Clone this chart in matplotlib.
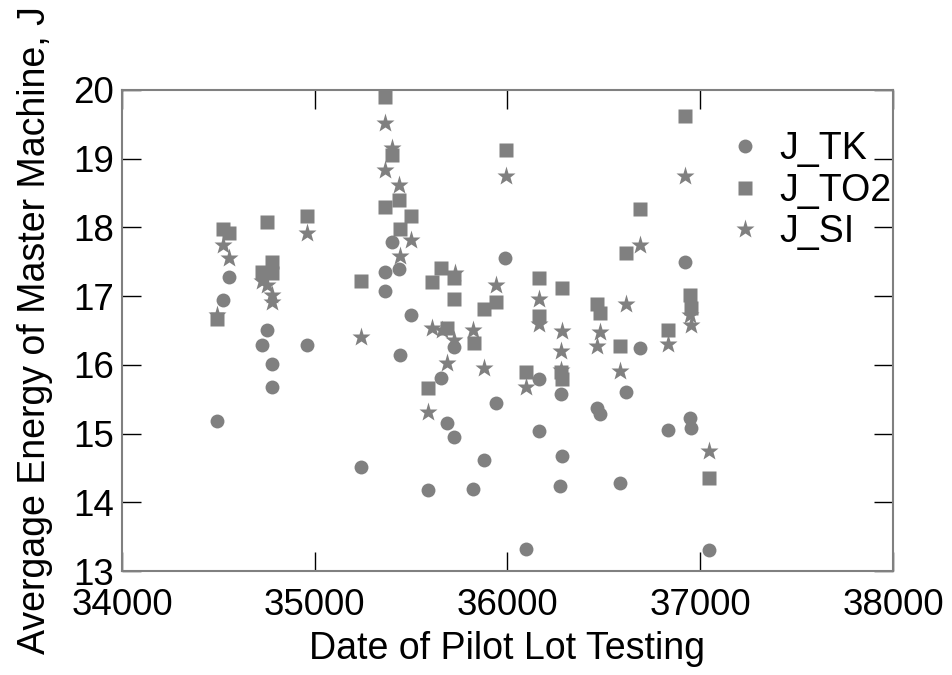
import matplotlib.pyplot as plt

plt.rcParams["font.family"] = ["Liberation Sans", "DejaVu Sans"]

# test dates and average energy readings per method
tk_date = [34492, 34523, 34554, 34727, 34751, 34779, 34776, 34960, 35240, 35363,
           35363, 35401, 35437, 35440, 35497, 35589, 35653, 35687, 35722, 35722,
           35820, 35877, 35941, 35988, 36097, 36166, 36166, 36278, 36281, 36275,
           36464, 36482, 36585, 36617, 36686, 36831, 36922, 36945, 36952, 37043]
tk_val = [15.18, 16.94, 17.28, 16.29, 16.51, 16.01, 15.67, 16.29, 14.52, 17.35,
          17.08, 17.79, 17.39, 16.14, 16.72, 14.18, 15.81, 15.15, 14.95, 16.26,
          14.19, 14.62, 15.45, 17.55, 13.32, 15.80, 15.03, 15.57, 14.67, 14.23,
          15.37, 15.29, 14.28, 15.61, 16.25, 15.05, 17.50, 15.22, 15.08, 13.30]

to2_date = [34492, 34523, 34554, 34727, 34751, 34776, 34779, 34960, 35242, 35363,
            35363, 35401, 35437, 35442, 35497, 35589, 35606, 35655, 35687, 35724,
            35724, 35824, 35877, 35941, 35990, 36097, 36166, 36166, 36278, 36283,
            36281, 36464, 36482, 36585, 36617, 36686, 36831, 36922, 36945, 36952,
            37043]
to2_val = [16.67, 17.97, 17.91, 17.35, 18.08, 17.49, 17.33, 18.17, 17.22, 19.89,
           18.30, 19.05, 18.40, 17.98, 18.16, 15.66, 17.20, 17.41, 16.53, 17.26,
           16.96, 16.32, 16.81, 16.91, 19.13, 15.90, 17.26, 16.71, 15.90, 15.79,
           17.11, 16.88, 16.75, 16.27, 17.63, 18.26, 16.50, 19.62, 17.02, 16.83,
           14.35]

si_date = [34492, 34523, 34554, 34727, 34751, 34779, 34776, 34960, 35240, 35363,
           35363, 35401, 35437, 35442, 35497, 35589, 35606, 35658, 35687, 35722,
           35726, 35820, 35877, 35941, 35990, 36097, 36166, 36166, 36278, 36278,
           36281, 36464, 36482, 36585, 36617, 36686, 36831, 36922, 36945, 36952,
           37043]
si_val = [16.72, 17.74, 17.55, 17.22, 17.16, 17.02, 16.92, 17.92, 16.41, 19.51,
          18.84, 19.15, 18.61, 17.58, 17.82, 15.32, 16.53, 16.50, 16.02, 16.36,
          17.33, 16.51, 15.95, 17.16, 18.75, 15.67, 16.96, 16.60, 16.20, 15.93,
          16.49, 16.27, 16.48, 15.91, 16.89, 17.74, 16.30, 18.75, 16.73, 16.58,
          14.74]

grey = "#808080"

fig = plt.figure(figsize=(9.53, 6.75), dpi=100)
ax = fig.add_axes([0.128, 0.154, 0.809, 0.713])

ax.plot(tk_date, tk_val, "o", color=grey, ms=10, mec="none", label="J_TK")
ax.plot(to2_date, to2_val, "s", color=grey, ms=10, mec="none", label="J_TO2")
ax.plot(si_date, si_val, "*", color=grey, ms=14, mec="none", label="J_SI")

ax.set_xlim(34000, 38000)
ax.set_ylim(13, 20)
ax.set_xticks([34000, 35000, 36000, 37000, 38000])
ax.set_yticks(range(13, 21))

ax.tick_params(direction="in", length=14, width=1, color="black",
               top=True, right=True, labelsize=26.5)
ax.tick_params(axis="x", pad=12)
ax.tick_params(axis="y", pad=6)
for s in ax.spines.values():
    s.set_color(grey)
    s.set_linewidth(1.5)

ax.set_xlabel("Date of Pilot Lot Testing", fontsize=27, labelpad=6)
ax.set_ylabel("Avergage Energy of Master Machine, J", fontsize=27, labelpad=14)

ax.legend(loc="upper right", frameon=False, fontsize=27, handletextpad=0.35,
          borderaxespad=0.0, labelspacing=0.15, handlelength=1.1,
          bbox_to_anchor=(1.017, 0.945))

fig.savefig("out.png", dpi=100)
